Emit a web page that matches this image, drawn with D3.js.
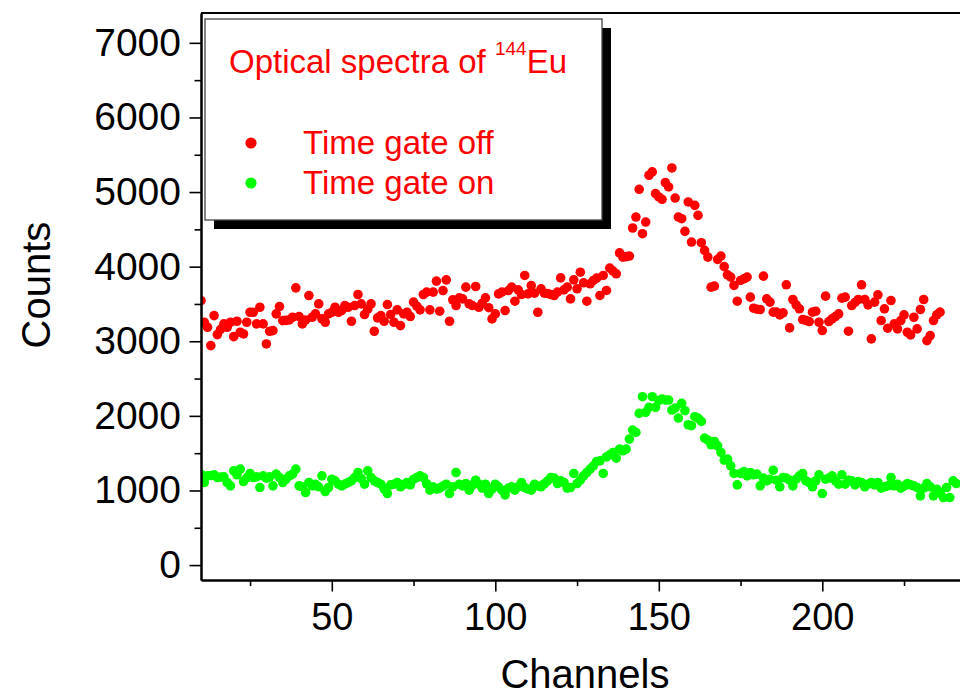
<!DOCTYPE html>
<html>
<head>
<meta charset="utf-8">
<script src="https://cdn.jsdelivr.net/npm/d3@7"></script>
<style>
  html, body { margin: 0; padding: 0; background: #fff; }
  svg { display: block; font-family: "Liberation Sans", Arial, sans-serif; }
</style>
</head>
<body>
<div id="chart"></div>
<script>
// spectra, one value per channel starting at firstChannel
const firstChannel = 10;

const gateOffCounts = [
  3546, 3255, 3188, 2942, 3344, 3089, 3160, 3233, 3188, 3255,
  3062, 3268, 3121, 3098, 3255, 3389, 3389, 3233, 3456, 3233,
  2964, 3134, 3143, 3367, 3465, 3277, 3280, 3286, 3322, 3716,
  3331, 3233, 3286, 3613, 3322, 3367, 3501, 3300, 3255, 3367,
  3389, 3456, 3389, 3412, 3479, 3456, 3268, 3479, 3627, 3501,
  3358, 3430, 3501, 3134, 3313, 3344, 3268, 3492, 3358, 3255,
  3421, 3210, 3367, 3389, 3331, 3524, 3470, 3421, 3627, 3658,
  3421, 3658, 3806, 3403, 3680, 3823, 3268, 3555, 3479, 3582,
  3568, 3725, 3501, 3479, 3734, 3456, 3510, 3582, 3450, 3300,
  3367, 3635, 3658, 3412, 3680, 3725, 3537, 3689, 3627, 3882,
  3635, 3747, 3644, 3389, 3703, 3644, 3640, 3627, 3613, 3658,
  3850, 3689, 3725, 3568, 3823, 3703, 3926, 3784, 3537, 3770,
  3815, 3846, 3614, 3882, 3681, 3980, 3940, 3904, 4186, 4128,
  4135, 4142, 4518, 4665, 5037, 4442, 4598, 5225, 5270, 4979,
  4934, 4903, 5126, 5068, 5323, 4920, 4665, 4643, 4473, 4867,
  4330, 4822, 4688, 4321, 4218, 4128, 3725, 3739, 4097, 4142,
  4000, 3891, 3860, 3748, 3537, 3815, 3837, 3860, 3591, 3443,
  3430, 3426, 3873, 3569, 3524, 3390, 3390, 3354, 3381, 3757,
  3179, 3560, 3488, 3435, 3291, 3280, 3264, 3390, 3403, 3255,
  3144, 3605, 3264, 3300, 3331, 3367, 3578, 3591, 3135, 3479,
  3520, 3560, 3757, 3560, 3488, 3032, 3524, 3622, 3278, 3435,
  3175, 3546, 3233, 3166, 3278, 3354, 3121, 3085, 3322, 3166,
  3426, 3560, 3009, 3076, 3278, 3354, 3390
];

const gateOnCounts = [
  1219, 1107, 1196, 1200, 1210, 1174, 1180, 1183, 1107, 1062,
  1263, 1210, 1286, 1120, 1170, 1228, 1174, 1183, 1040, 1196,
  1165, 1183, 1062, 1219, 1174, 1107, 1150, 1196, 1219, 1286,
  1062, 1049, 972, 1107, 1062, 1084, 1049, 1196, 986, 1040,
  1151, 1129, 1084, 1062, 1085, 1107, 1129, 1174, 1241, 1160,
  1084, 1263, 1174, 1129, 1107, 1084, 1020, 959, 1075, 1084,
  1107, 1049, 1080, 1107, 1075, 1151, 1174, 1196, 1174, 1090,
  1004, 1049, 1017, 1031, 1060, 1084, 959, 1049, 1241, 1084,
  1062, 1093, 1004, 1070, 1138, 1084, 1031, 1084, 959, 1020,
  1084, 1049, 1004, 941, 1031, 1049, 1004, 1049, 1107, 1040,
  1020, 1004, 1084, 1062, 1049, 1090, 1129, 1174, 1165, 1093,
  1129, 1107, 1031, 1040, 1228, 1093, 1138, 1196, 1241, 1286,
  1331, 1389, 1398, 1228, 1451, 1478, 1510, 1434, 1554, 1532,
  1554, 1689, 1809, 1778, 2033, 2257, 2047, 2114, 2257, 2114,
  2203, 2226, 2212, 2212, 2078, 2105, 1971, 2168, 2069, 1881,
  1868, 1989, 1971, 1926, 1702, 1675, 1613, 1657, 1599, 1510,
  1407, 1420, 1331, 1228, 1075, 1228, 1254, 1196, 1241, 1210,
  1219, 1062, 1165, 1129, 1151, 1272, 1138, 1049, 1174, 1165,
  1138, 1062, 1151, 1196, 1228, 1129, 1107, 1049, 1130, 1210,
  959, 1151, 1165, 1196, 1129, 1084, 1210, 1084, 1138, 1129,
  1075, 1120, 1107, 1049, 1084, 1107, 1075, 1107, 1031, 1049,
  1062, 1174, 1062, 1084, 1031, 1060, 1093, 1075, 1062, 1040,
  928, 1031, 1093, 1049, 928, 1017, 972, 905, 1040, 905,
  1129, 1093
];

const xMajorTicks = [50, 100, 150, 200];
const xMinorTicks = [25, 75, 125, 175, 225];
const yMajorTicks = [0, 1000, 2000, 3000, 4000, 5000, 6000, 7000];
const yMinorTicks = [500, 1500, 2500, 3500, 4500, 5500, 6500];

const series = [
  { name: "Time gate off", color: "#ff0000", counts: gateOffCounts },
  { name: "Time gate on", color: "#00ff00", counts: gateOnCounts }
];

const width = 960;
const height = 697;
const plot = { left: 201, top: 13, bottom: 580 };

const svg = d3
  .select("#chart")
  .append("svg")
  .attr("width", width)
  .attr("height", height);

svg.append("rect").attr("width", width).attr("height", height).attr("fill", "#fff");

const xScale = d3.scaleLinear().domain([10, 245]).range([plot.left, plot.left + 235 * 3.27]);
const yScale = d3.scaleLinear().domain([-200, 7400]).range([plot.bottom, plot.top]);

svg
  .append("clipPath")
  .attr("id", "plot-clip")
  .append("rect")
  .attr("x", plot.left)
  .attr("y", plot.top)
  .attr("width", xScale.range()[1] - plot.left)
  .attr("height", plot.bottom - plot.top);

// scatter points
const points = svg.append("g").attr("clip-path", "url(#plot-clip)");
series.forEach((s) => {
  points
    .selectAll(null)
    .data(s.counts.map((c, i) => ({ channel: firstChannel + i, count: c })))
    .enter()
    .append("circle")
    .attr("cx", (d) => xScale(d.channel))
    .attr("cy", (d) => yScale(d.count))
    .attr("r", 4.8)
    .attr("fill", s.color);
});

// axes
const styleAxis = (g, fontSize) => {
  g.select(".domain").attr("stroke", "#000").attr("stroke-width", 2);
  g.selectAll(".tick line").attr("stroke", "#000").attr("stroke-width", 1.6);
  g.selectAll(".tick text").attr("fill", "#000").attr("font-size", fontSize);
  g.attr("font-family", null);
};

svg
  .append("g")
  .attr("transform", `translate(0,${plot.bottom})`)
  .call(d3.axisBottom(xScale).tickValues(xMinorTicks).tickSize(6).tickSizeOuter(0).tickFormat(""))
  .call((g) => styleAxis(g, 38));

svg
  .append("g")
  .attr("transform", `translate(0,${plot.bottom})`)
  .call(
    d3.axisBottom(xScale).tickValues(xMajorTicks).tickSize(11.5).tickSizeOuter(0)
      .tickPadding(12).tickFormat(d3.format("d"))
  )
  .call((g) => styleAxis(g, 38));

svg
  .append("g")
  .attr("transform", `translate(${plot.left},0)`)
  .call(d3.axisLeft(yScale).tickValues(yMinorTicks).tickSize(6.5).tickSizeOuter(0).tickFormat(""))
  .call((g) => styleAxis(g, 39));

svg
  .append("g")
  .attr("transform", `translate(${plot.left},0)`)
  .call(
    d3.axisLeft(yScale).tickValues(yMajorTicks).tickSize(11.5).tickSizeOuter(0)
      .tickPadding(8.5).tickFormat(d3.format("d"))
  )
  .call((g) => styleAxis(g, 39));

// top frame line
svg
  .append("line")
  .attr("x1", plot.left)
  .attr("x2", xScale.range()[1])
  .attr("y1", plot.top)
  .attr("y2", plot.top)
  .attr("stroke", "#000")
  .attr("stroke-width", 2);

svg
  .append("text")
  .attr("x", 585)
  .attr("y", 688)
  .attr("text-anchor", "middle")
  .attr("font-size", 40)
  .text("Channels");

svg
  .append("text")
  .attr("transform", "translate(50,285) rotate(-90)")
  .attr("text-anchor", "middle")
  .attr("font-size", 40)
  .text("Counts");

// legend box with drop shadow
const legend = svg.append("g").attr("transform", "translate(205,19)");
const boxW = 397;
const boxH = 201;

legend.append("rect").attr("x", 9).attr("y", 9).attr("width", boxW).attr("height", boxH).attr("fill", "#000");
legend
  .append("rect")
  .attr("width", boxW)
  .attr("height", boxH)
  .attr("fill", "#fff")
  .attr("stroke", "#444")
  .attr("stroke-width", 1.3);

const title = legend
  .append("text")
  .attr("x", 24)
  .attr("y", 54)
  .attr("fill", "#ff0000")
  .attr("font-size", 33);
title.append("tspan").text("Optical spectra of ");
title.append("tspan").attr("font-size", 19).attr("dy", -18).text("144");
title.append("tspan").attr("dy", 18).text("Eu");

legend
  .selectAll(".legend-item")
  .data(series)
  .enter()
  .append("g")
  .attr("class", "legend-item")
  .attr("transform", (d, i) => `translate(0,${124 + i * 40})`)
  .each(function (d) {
    const g = d3.select(this);
    g.append("circle").attr("cx", 46).attr("cy", 0).attr("r", 5.6).attr("fill", d.color);
    g.append("text")
      .attr("x", 98)
      .attr("y", 11)
      .attr("fill", "#ff0000")
      .attr("font-size", 33)
      .text(d.name);
  });
</script>
</body>
</html>
